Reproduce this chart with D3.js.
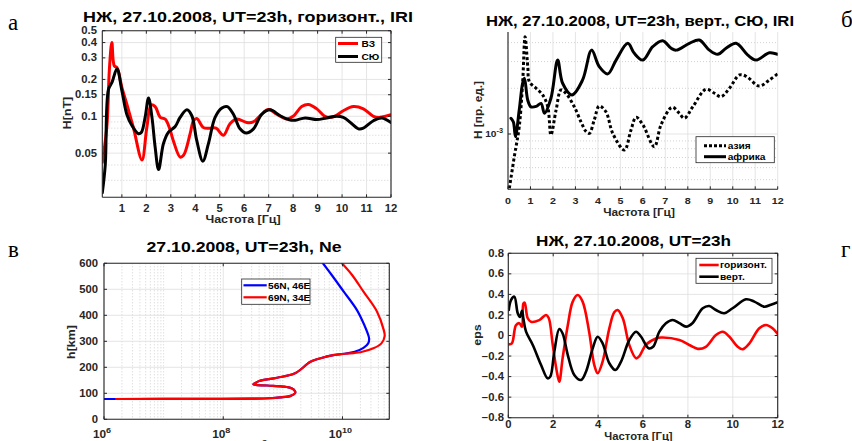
<!DOCTYPE html>
<html><head><meta charset="utf-8">
<script src="https://cdn.jsdelivr.net/npm/d3@7"></script>
<style>
html,body{margin:0;padding:0;background:#fff;}
svg{display:block;}
text{font-family:"Liberation Sans",Arial,Helvetica,sans-serif;}
</style></head><body>
<svg id="fig" width="852" height="441"></svg>
<script>
// ---------- panel а: horizontal field, two paths ----------
const aTitle = "НЖ, 27.10.2008, UT=23h, горизонт., IRI";
const aXTicks = [1,2,3,4,5,6,7,8,9,10,11,12];
const aYTicks = [0.05,0.1,0.15,0.2,0.3,0.4,0.5];
const aYTickLabels = ["0.05","0.1","0.15","0.2","0.3","0.4","0.5"];
const aYMinor = [0.03,0.04,0.06,0.07,0.08,0.09];
const aFreqWE = [0.2,0.39,0.49,0.59,0.69,0.8,1.0,1.2,1.47,1.82,2.02,2.2,2.36,2.57,2.77,2.95,3.1,3.38,3.52,3.79,3.93,4.06,4.33,4.6,4.85,5.15,5.42,5.7,6.1,6.37,6.92,7.06,7.33,7.74,8.0,8.35,8.62,8.97,9.3,9.65,10.05,10.46,10.87,11.28,11.55,12];
const aValWE  = [0.042,0.084,0.243,0.40,0.258,0.25,0.172,0.126,0.081,0.044,0.081,0.124,0.12,0.098,0.095,0.08,0.0635,0.0465,0.048,0.072,0.092,0.096,0.081,0.08,0.08,0.07,0.087,0.095,0.089,0.09,0.113,0.113,0.104,0.095,0.1,0.12,0.125,0.115,0.1,0.099,0.111,0.12,0.115,0.1,0.098,0.103];
const aFreqNS = [0.2,0.32,0.45,0.6,0.8,1.0,1.2,1.41,1.68,1.8,1.95,2.09,2.23,2.36,2.5,2.7,2.9,3.18,3.38,3.66,3.86,4.06,4.31,4.54,4.81,5.09,5.31,5.56,5.83,6.08,6.38,6.72,7.06,7.47,7.88,8.1,8.49,8.97,9.37,9.78,10.05,10.4,10.67,10.87,11.28,11.62,12];
const aValNS  = [0.0237,0.0397,0.165,0.19,0.245,0.162,0.104,0.084,0.072,0.074,0.098,0.141,0.098,0.056,0.0367,0.06,0.074,0.0825,0.098,0.113,0.101,0.0635,0.043,0.06,0.098,0.117,0.12,0.104,0.079,0.073,0.079,0.104,0.113,0.101,0.093,0.093,0.097,0.094,0.097,0.1,0.098,0.087,0.079,0.08,0.092,0.097,0.089];

// ---------- panel б: vertical field, two continents ----------
const bTitle = "НЖ, 27.10.2008, UT=23h, верт., СЮ, IRI";
const bXTicks = [0,1,2,3,4,5,6,7,8,9,10,11,12];
const bYMinor = [5e-4,6e-4,7e-4,8e-4,9e-4,2e-3,3e-3,4e-3];
const bFreqAsia = [0.06,0.28,0.5,0.65,0.76,0.88,0.95,1.25,1.54,1.77,1.91,2.14,2.36,2.58,2.95,3.25,3.47,3.62,3.84,4.06,4.36,4.66,5.18,5.47,5.7,6.0,6.51,6.81,7.3,7.62,7.85,8.22,8.81,9.2,9.48,9.85,10.3,10.6,11.18,11.63,12];
const bValAsia  = [0.439e-3,0.709e-3,1.117e-3,2.16e-3,4.37e-3,2.78e-3,2.21e-3,2.0e-3,1.81e-3,1.51e-3,0.985e-3,1.44e-3,1.95e-3,1.85e-3,1.51e-3,1.2e-3,1.04e-3,1.01e-3,1.24e-3,1.53e-3,1.4e-3,1.01e-3,0.784e-3,1.06e-3,1.29e-3,1.15e-3,0.825e-3,1.15e-3,1.5e-3,1.37e-3,1.27e-3,1.51e-3,1.97e-3,1.85e-3,1.76e-3,2.0e-3,2.45e-3,2.4e-3,2.07e-3,2.27e-3,2.49e-3];
const bFreqAfrica = [0.13,0.24,0.33,0.5,0.65,0.73,0.88,1.02,1.25,1.47,1.62,1.91,2.21,2.43,2.85,3.32,3.72,4.06,4.44,4.81,5.33,5.62,6.0,6.44,6.88,7.26,7.48,8.07,8.51,8.96,9.33,9.7,10.15,10.67,11.04,11.63,12];
const bValAfrica  = [1.27e-3,1.2e-3,0.96e-3,1.44e-3,2.16e-3,2.33e-3,1.67e-3,1.51e-3,1.52e-3,1.59e-3,1.37e-3,1.72e-3,3.07e-3,2.16e-3,1.81e-3,2.27e-3,3.57e-3,2.78e-3,2.49e-3,3.07e-3,3.96e-3,3.4e-3,3.07e-3,3.76e-3,4.12e-3,3.67e-3,3.57e-3,3.96e-3,4.16e-3,3.57e-3,3.35e-3,3.67e-3,3.96e-3,3.31e-3,3.07e-3,3.43e-3,3.35e-3];

// ---------- panel в: electron density profiles ----------
const cTitle = "27.10.2008, UT=23h, Ne";
const cYTicks = [0,100,200,300,400,500,600];
const cXTicks = [1e6,1e8,1e10];
const cXTickExp = ["6","8","10"];
const cNe56 = [1e6,1e7,1e8,3e8,6e8,9e8,1.35e9,1.6e9,1.6e9,1.4e9,1.0e9,5.5e8,3.2e8,3.5e8,4e8,8e8,1.6e9,2.9e9,4.3e9,7e9,1.05e10,1.6e10,2.25e10,2.7e10,2.8e10,2.6e10,2.35e10,1.75e10,1.05e10,6.6e9,4.7e9];
const cH56  = [78,78.3,78.8,79.5,81,84,90,100,108,119,126,130,134,140,147,160,177,221,235,247,252,260,275,292,310,335,360,420,491,555,600];
const cNe69 = [1.6e6,1e7,1e8,3e8,6e8,9e8,1.35e9,1.6e9,1.6e9,1.4e9,1.0e9,5.5e8,3.2e8,3.5e8,4e8,8e8,1.6e9,2.9e9,4.3e9,7e9,1.1e10,2.0e10,3.3e10,4.5e10,5.1e10,4.9e10,3.8e10,2.25e10,1.45e10,9.8e9];
const cH69  = [78,78.3,78.8,79.5,81,84,90,100,108,119,126,130,134,140,147,160,177,221,235,247,252,258,273,292,320,345,414,491,555,600];

// ---------- panel г: eps ----------
const dTitle = "НЖ,  27.10.2008, UT=23h";
const dXTicks = [0,2,4,6,8,10,12];
const dYTicks = [-0.8,-0.6,-0.4,-0.2,0,0.2,0.4,0.6,0.8];
const dFreqH = [0.02,0.16,0.34,0.49,0.61,0.67,0.73,0.86,1.01,1.38,1.68,1.8,1.98,2.16,2.27,2.42,2.65,2.87,3.09,3.31,3.6,3.83,3.98,4.2,4.5,4.72,4.87,5.1,5.39,5.69,5.84,6.13,6.58,6.8,7.62,8.06,8.44,8.8,9.25,9.55,9.84,10.22,10.44,10.74,11.18,11.48,11.77,12];
const dEpsH  = [-0.086,-0.076,0.10,0.12,0.086,0.31,0.32,0.17,0.134,0.15,0.2,0.17,-0.09,-0.35,-0.45,-0.22,0.10,0.33,0.394,0.33,0.037,-0.287,-0.368,-0.255,0.07,0.226,0.248,0.167,-0.092,-0.222,-0.2,-0.09,-0.03,-0.02,-0.044,-0.092,-0.13,-0.11,0.005,0.037,-0.01,-0.11,-0.134,-0.076,0.07,0.102,0.07,0.015];
const dFreqV = [0.02,0.12,0.27,0.42,0.52,0.61,0.67,0.79,1.09,1.46,1.75,1.87,2.05,2.27,2.42,2.65,2.94,3.24,3.46,3.76,3.98,4.2,4.5,4.77,5.02,5.39,5.69,5.91,6.25,6.45,6.73,7.02,7.32,7.62,7.92,8.2,8.66,8.95,9.25,9.62,9.99,10.59,10.96,11.4,11.7,12];
const dEpsV  = [0.248,0.345,0.378,0.216,0.18,0.24,0.167,0.037,-0.092,-0.287,-0.417,-0.4,-0.157,0.063,0.02,-0.19,-0.384,-0.433,-0.352,-0.125,-0.012,-0.076,-0.27,-0.336,-0.255,-0.044,0.037,-0.01,-0.125,-0.11,0.037,0.119,0.151,0.12,0.086,0.12,0.265,0.287,0.248,0.216,0.265,0.352,0.33,0.28,0.3,0.323];

const freqLabel = "Частота [Гц]";

// ---------- drawing helpers ----------
const svg = d3.select("#fig");
svg.append("rect").attr("width",852).attr("height",441).attr("fill","#fff");
const AX = "#262626", GRID = "#dedede", MINOR = "#c6c6c6";
const SX = 1.13;

function txt(g, s, x, y, o = {}) {
  const t = g.append("g").attr("transform",
    `translate(${x},${y})` + (o.rot ? ` rotate(${o.rot})` : "") + ` scale(${o.sx || SX},1)`)
    .append("text")
    .attr("text-anchor", o.anchor || "middle")
    .attr("font-size", o.size || 10)
    .attr("font-weight", o.weight || "bold")
    .attr("fill", o.fill || AX)
    .text(s);
  if (o.family) t.style("font-family", o.family);
  return t;
}
function title(g, s, cx, y, width) {
  g.append("text").attr("x", cx).attr("y", y).attr("text-anchor", "middle")
    .attr("font-size", 14).attr("font-weight", "bold").attr("fill", "#000")
    .attr("textLength", width).attr("lengthAdjust", "spacingAndGlyphs").text(s);
}
function hline(g, y, x0, x1, color, dash, w = 0.8) {
  g.append("line").attr("x1", x0).attr("x2", x1).attr("y1", y).attr("y2", y)
    .attr("stroke", color).attr("stroke-width", w).attr("stroke-dasharray", dash || null);
}
function vline(g, x, y0, y1, color, dash, w = 0.8) {
  g.append("line").attr("x1", x).attr("x2", x).attr("y1", y0).attr("y2", y1)
    .attr("stroke", color).attr("stroke-width", w).attr("stroke-dasharray", dash || null);
}
let clipN = 0;
function clip(g, x0, y0, x1, y1) {
  const id = "clip" + (clipN++);
  svg.append("defs").append("clipPath").attr("id", id).append("rect")
    .attr("x", x0).attr("y", y0).attr("width", x1 - x0).attr("height", y1 - y0);
  return g.append("g").attr("clip-path", `url(#${id})`);
}
function curve(g, xs, ys, sx, sy, color, w, dash) {
  const pts = xs.map((v, i) => [sx(v), sy(ys[i])]);
  g.append("path").attr("d", d3.line().curve(d3.curveCatmullRom.alpha(0.5))(pts))
    .attr("fill", "none").attr("stroke", color).attr("stroke-width", w)
    .attr("stroke-linejoin", "round").attr("stroke-linecap", dash ? "butt" : "round")
    .attr("stroke-dasharray", dash || null);
}
function legend(g, x0, y0, x1, y1, items) {
  g.append("rect").attr("x", x0).attr("y", y0).attr("width", x1 - x0).attr("height", y1 - y0)
    .attr("fill", "#fff").attr("stroke", AX).attr("stroke-width", 0.8);
  items.forEach(it => {
    g.append("line").attr("x1", it.lx0).attr("x2", it.lx1).attr("y1", it.y).attr("y2", it.y)
      .attr("stroke", it.color).attr("stroke-width", it.w).attr("stroke-dasharray", it.dash || null);
    txt(g, it.label, it.tx, it.y + 3.2, { anchor: "start", size: 9, fill: "#000" });
  });
}
function frame(g, x0, y0, x1, y1, box) {
  vline(g, x0, y0, y1, AX, null, 1.1);
  hline(g, y1, x0, x1, AX, null, 1.1);
  if (box) { vline(g, x1, y0, y1, AX, null, 1.1); hline(g, y0, x0, x1, AX, null, 1.1); }
}
function xTickMarks(g, xs, y0, y1, box) {
  xs.forEach(x => { vline(g, x, y1, y1 - 3, AX, null, 1); if (box) vline(g, x, y0, y0 + 3, AX, null, 1); });
}
function yTickMarks(g, ys, x0, x1, box) {
  ys.forEach(y => { hline(g, y, x0, x0 + 3, AX, null, 1); if (box) hline(g, y, x1, x1 - 3, AX, null, 1); });
}

// ---------- panel а ----------
{
  const g = svg.append("g");
  const x = d3.scaleLinear().domain([0.2, 12]).range([102.3, 391]);
  const y = d3.scaleLog().domain([0.0218, 0.5]).range([197.3, 30.7]);
  const [X0, X1] = x.range(), [Y1, Y0] = y.range();
  aYMinor.forEach(v => hline(g, y(v), X0, X1, MINOR, "1,2"));
  aYTicks.forEach(v => hline(g, y(v), X0, X1, GRID));
  aXTicks.forEach(v => vline(g, x(v), Y0, Y1, GRID));
  const c = clip(g, X0, Y0, X1, Y1);
  curve(c, aFreqWE, aValWE, x, y, "#ff0000", 3);
  curve(c, aFreqNS, aValNS, x, y, "#000", 3);
  frame(g, X0, Y0, X1, Y1, true);
  xTickMarks(g, aXTicks.map(x), Y0, Y1, true);
  yTickMarks(g, aYTicks.map(y), X0, X1, true);
  aXTicks.forEach(v => txt(g, String(v), x(v), 212));
  aYTicks.forEach((v, i) => txt(g, aYTickLabels[i], 97, y(v) + 3.6, { anchor: "end" }));
  title(g, aTitle, 248, 21.7, 330);
  txt(g, freqLabel, 243, 222.5, { size: 11 });
  txt(g, "H[nT]", 71, 113, { size: 11, rot: -90 });
  legend(g, 335.7, 37.3, 381.7, 62.3, [
    { label: "ВЗ", color: "#ff0000", w: 3, y: 43.5, lx0: 338, lx1: 358, tx: 361.5 },
    { label: "СЮ", color: "#000", w: 3, y: 56.5, lx0: 338, lx1: 358, tx: 361.5 }
  ]);
}

// ---------- panel б ----------
{
  const g = svg.append("g");
  const x = d3.scaleLinear().domain([0, 12]).range([508, 777.7]);
  const y = d3.scaleLog().domain([4.32e-4, 4.7e-3]).range([189.3, 32]);
  const [X0, X1] = x.range(), [Y1, Y0] = y.range();
  bYMinor.forEach(v => hline(g, y(v), X0, X1, MINOR, "1,2"));
  hline(g, y(1e-3), X0, X1, GRID);
  bXTicks.forEach(v => vline(g, x(v), Y0, Y1, GRID));
  const c = clip(g, X0, Y0 - 4, X1, Y1);
  curve(c, bFreqAsia, bValAsia, x, y, "#000", 3, "3,2.4");
  curve(c, bFreqAfrica, bValAfrica, x, y, "#000", 3);
  frame(g, X0, Y0, X1, Y1, false);
  xTickMarks(g, bXTicks.map(x), Y0, Y1, false);
  yTickMarks(g, [y(1e-3)], X0, X1, false);
  bXTicks.forEach(v => txt(g, String(v), x(v), 204, { size: 9.5 }));
  const t = txt(g, "10", 503, y(1e-3) + 3.4, { anchor: "end", size: 9 });
  t.append("tspan").attr("dy", -4.5).attr("font-size", 6.5).text("-3");
  title(g, bTitle, 640, 26, 308);
  txt(g, freqLabel, 639, 216, { size: 10.5 });
  txt(g, "H [пр. ед.]", 481.5, 110, { size: 10.5, rot: -90 });
  legend(g, 696, 136.7, 774.3, 162.7, [
    { label: "азия", color: "#000", w: 3, dash: "3,2", y: 145.7, lx0: 704, lx1: 726, tx: 727.7 },
    { label: "африка", color: "#000", w: 3, y: 156.7, lx0: 704, lx1: 726, tx: 727.7 }
  ]);
}

// ---------- panel в ----------
{
  const g = svg.append("g");
  const x = d3.scaleLog().domain([1e6, 6.1e10]).range([104, 389.3]);
  const y = d3.scaleLinear().domain([0, 600]).range([419.3, 263.3]);
  const [X0, X1] = x.range(), [Y1, Y0] = y.range();
  const minor = [];
  for (let e = 6; e <= 10; e++) for (let k = 1; k <= 9; k++) {
    const v = k * Math.pow(10, e);
    if (v > 1e6 && v < 6.1e10 && !cXTicks.includes(v)) minor.push(v);
  }
  minor.forEach(v => vline(g, x(v), Y0, Y1, MINOR, "1,2"));
  cXTicks.forEach(v => vline(g, x(v), Y0, Y1, GRID));
  cYTicks.forEach(v => hline(g, y(v), X0, X1, GRID));
  const c = clip(g, X0, Y0, X1, Y1);
  curve(c, cNe56, cH56, x, y, "#0000ff", 2.2);
  curve(c, cNe69, cH69, x, y, "#ff0000", 2.2);
  frame(g, X0, Y0, X1, Y1, true);
  xTickMarks(g, cXTicks.map(x), Y0, Y1, true);
  yTickMarks(g, cYTicks.map(y), X0, X1, true);
  cYTicks.forEach(v => txt(g, String(v), 98, y(v) + 3.6, { anchor: "end" }));
  cXTicks.forEach((v, i) => {
    const t = txt(g, "10", x(v) - 2, 438, { size: 10.5 });
    t.append("tspan").attr("dy", -5).attr("font-size", 8).text(cXTickExp[i]);
  });
  title(g, cTitle, 244, 251.7, 195);
  txt(g, "h[km]", 75, 342, { size: 11, rot: -90 });
  const xl = txt(g, "Ne, m", 246, 452, { size: 11 });
  xl.append("tspan").attr("dy", -7).attr("font-size", 8).text("-3");
  legend(g, 241.7, 279, 310, 304.3, [
    { label: "56N, 46E", color: "#0000ff", w: 2.2, y: 285.3, lx0: 243.5, lx1: 266.7, tx: 268 },
    { label: "69N, 34E", color: "#ff0000", w: 2.2, y: 297.3, lx0: 243.5, lx1: 266.7, tx: 268 }
  ]);
}

// ---------- panel г ----------
{
  const g = svg.append("g");
  const x = d3.scaleLinear().domain([0, 12]).range([508.3, 777.7]);
  const y = d3.scaleLinear().domain([-0.8, 0.8]).range([417.7, 253.3]);
  const [X0, X1] = x.range(), [Y1, Y0] = y.range();
  dXTicks.forEach(v => vline(g, x(v), Y0, Y1, GRID));
  dYTicks.forEach(v => hline(g, y(v), X0, X1, GRID));
  const c = clip(g, X0, Y0, X1, Y1);
  curve(c, dFreqH, dEpsH, x, y, "#ff0000", 2.6);
  curve(c, dFreqV, dEpsV, x, y, "#000", 2.6);
  frame(g, X0, Y0, X1, Y1, true);
  xTickMarks(g, dXTicks.map(x), Y0, Y1, true);
  yTickMarks(g, dYTicks.map(y), X0, X1, true);
  dXTicks.forEach(v => txt(g, String(v), x(v), 428));
  dYTicks.forEach(v => txt(g, v === 0 ? "0" : d3.format(".1f")(v), 504, y(v) + 3.6, { anchor: "end" }));
  title(g, dTitle, 633.6, 245.7, 195);
  txt(g, freqLabel, 638.5, 439.8, { size: 10 });
  txt(g, "eps", 481, 335, { size: 11, rot: -90 });
  legend(g, 696, 258.3, 772, 283.3, [
    { label: "горизонт.", color: "#ff0000", w: 2.6, y: 265, lx0: 699.3, lx1: 718.7, tx: 720 },
    { label: "верт.", color: "#000", w: 2.6, y: 276.7, lx0: 699.3, lx1: 718.7, tx: 720 }
  ]);
}

// ---------- panel letters ----------
const serif = '"Liberation Serif","Times New Roman",serif';
[["а", 8, 30], ["б", 841, 26.7], ["в", 8, 256.7], ["г", 841, 256.7]].forEach(([s, x, y]) =>
  txt(svg, s, x, y, { anchor: "start", size: 23, weight: "normal", fill: "#000", sx: 1, family: serif }));
</script>
</body></html>
